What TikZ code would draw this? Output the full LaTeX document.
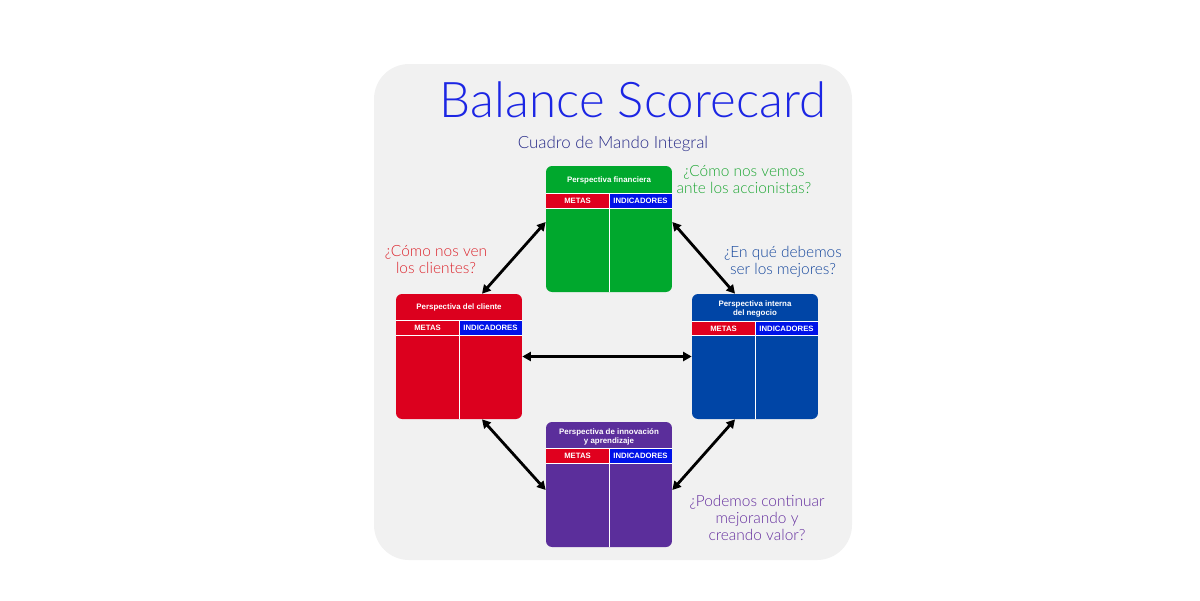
\documentclass[tikz,border=0pt]{standalone}
\usepackage{fontspec}
\setmainfont{Lato Light}
\newfontfamily\boxfont{Liberation Sans}
\usetikzlibrary{positioning,arrows.meta,calc}

\definecolor{panelgray}{RGB}{241,241,241}
\definecolor{titleblue}{RGB}{28,38,228}
\definecolor{subnavy}{RGB}{38,42,136}
\definecolor{fingreen}{RGB}{0,168,45}
\definecolor{clired}{RGB}{220,0,30}
\definecolor{bizblue}{RGB}{0,69,166}
\definecolor{innpurple}{RGB}{91,46,155}
\definecolor{barred}{RGB}{224,0,30}
\definecolor{barblue}{RGB}{0,18,232}
\definecolor{qgreen}{RGB}{28,166,50}
\definecolor{qred}{RGB}{220,36,44}
\definecolor{qblue}{RGB}{20,70,156}
\definecolor{qpurple}{RGB}{100,46,158}

\begin{document}
\begin{tikzpicture}[x=0.02cm,y=-0.02cm,
    card/.style={rounded corners=0.12cm, minimum width=2.52cm, minimum height=2.52cm, inner sep=0pt},
    head/.style={text=white, align=center, font=\boxfont\bfseries\fontsize{4.5}{5.3}\selectfont},
    metas/.style={fill=barred, text=white, minimum width=1.26cm, minimum height=0.28cm, inner sep=0pt, font=\boxfont\bfseries\fontsize{4.4}{5}\selectfont},
    indic/.style={metas, fill=barblue},
    rule/.style={white, line width=0.6pt},
    link/.style={line width=1.6pt, {Triangle[length=0.17cm,width=0.18cm]}-{Triangle[length=0.17cm,width=0.18cm]}},
    ask/.style={align=center, font=\fontsize{8.8}{9.6}\selectfont}]

    \useasboundingbox (0,0) rectangle (1200,600);

    % panel
    \fill[panelgray, rounded corners=0.7cm] (374,64) rectangle (852,560);

    % titles
    \node[anchor=base, text=titleblue, font=\fontsize{28}{30}\selectfont] (title) at (633,117) {Balance Scorecard};
    \node[anchor=base, text=subnavy, font=\fontsize{9.6}{10}\selectfont] (subtitle) at (613,148) {Cuadro de Mando Integral};

    % perspectiva financiera
    \node[card, fill=fingreen] (fin) at (609,229) {};
    \node[head] (fin-h) at (609,180) {Perspectiva financiera};
    \node[metas] (fin-m) at (577.5,201) {METAS};
    \node[indic] (fin-i) at (640.5,201) {INDICADORES};
    \draw[rule] (fin-m.north west) -- (fin-i.north east);
    \draw[rule] (fin-m.south west) -- (fin-i.south east);
    \draw[rule] (fin-m.north east) -- (fin-m.north east |- fin.south);

    % perspectiva del cliente
    \node[card, fill=clired, minimum height=2.5cm] (cli) at (459,356.5) {};
    \node[head] (cli-h) at (459,307) {Perspectiva del cliente};
    \node[metas] (cli-m) at (427.5,328) {METAS};
    \node[indic] (cli-i) at (490.5,328) {INDICADORES};
    \draw[rule] (cli-m.north west) -- (cli-i.north east);
    \draw[rule] (cli-m.south west) -- (cli-i.south east);
    \draw[rule] (cli-m.north east) -- (cli-m.north east |- cli.south);

    % perspectiva interna
    \node[card, fill=bizblue, minimum height=2.5cm] (biz) at (755,356.5) {};
    \node[head] (biz-h) at (755,309) {Perspectiva interna\\del negocio};
    \node[metas] (biz-m) at (723.5,328.5) {METAS};
    \node[indic] (biz-i) at (786.5,328.5) {INDICADORES};
    \draw[rule] (biz-m.north west) -- (biz-i.north east);
    \draw[rule] (biz-m.south west) -- (biz-i.south east);
    \draw[rule] (biz-m.north east) -- (biz-m.north east |- biz.south);

    % perspectiva de innovacion
    \node[card, fill=innpurple, minimum height=2.5cm] (inn) at (609,484.5) {};
    \node[head] (inn-h) at (609,437) {Perspectiva de innovación\\y aprendizaje};
    \node[metas] (inn-m) at (577.5,456) {METAS};
    \node[indic] (inn-i) at (640.5,456) {INDICADORES};
    \draw[rule] (inn-m.north west) -- (inn-i.north east);
    \draw[rule] (inn-m.south west) -- (inn-i.south east);
    \draw[rule] (inn-m.north east) -- (inn-m.north east |- inn.south);

    % arrows
    \draw[link] ([xshift=0.46cm]cli.north) -- ([yshift=0.14cm]fin.west);
    \draw[link] ([yshift=0.14cm]fin.east) -- ([xshift=-0.4cm]biz.north);
    \draw[link] (cli.east) -- (biz.west);
    \draw[link] ([xshift=0.46cm]cli.south) -- ([yshift=-0.11cm]inn.west);
    \draw[link] ([xshift=-0.4cm]biz.south) -- ([yshift=-0.11cm]inn.east);

    % questions
    \node[ask, text=qgreen, anchor=base] (q-fin) at (744,193) {¿Cómo nos vemos\\ante los accionistas?};
    \node[ask, text=qred, anchor=base] (q-cli) at (436,273) {¿Cómo nos ven\\los clientes?};
    \node[ask, text=qblue, anchor=base] (q-biz) at (783,274) {¿En qué debemos\\ser los mejores?};
    \node[ask, text=qpurple, anchor=base] (q-inn) at (757,540) {¿Podemos continuar\\mejorando y\\creando valor?};

\end{tikzpicture}
\end{document}
